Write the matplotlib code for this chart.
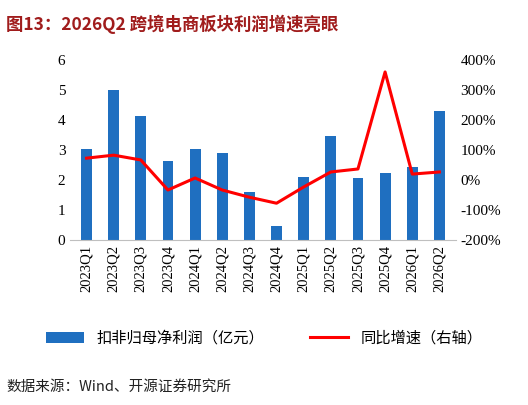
import numpy as np
import matplotlib.pyplot as plt

plt.rcParams['font.family'] = ['Noto Sans CJK SC', 'DejaVu Sans']

quarters = ['2023Q1', '2023Q2', '2023Q3', '2023Q4', '2024Q1', '2024Q2', '2024Q3',
            '2024Q4', '2025Q1', '2025Q2', '2025Q3', '2025Q4', '2026Q1', '2026Q2']
profit = [3.02, 5.0, 4.15, 2.65, 3.05, 2.9, 1.6, 0.48, 2.1, 3.47, 2.07, 2.25, 2.45, 4.3]
growth = [73, 83, 67, -33, 7, -33, -57, -77, -23, 27, 37, 360, 20, 27]

fig = plt.figure(figsize=(5.28, 4.05), dpi=100)
ax = fig.add_axes([0.133, 0.407, 0.73, 0.445])
x = np.arange(len(quarters))
ax.bar(x, profit, width=0.4, color='#1f6fc0', label='扣非归母净利润（亿元）')
ax.set_ylim(0, 6)
ax.set_yticks(range(0, 7))
ax.set_xlim(-0.6, len(x) - 0.4)
ax.set_xticks(x)
ax.set_xticklabels(quarters, rotation=90, fontsize=10.5, family=['Liberation Serif'])
ax.tick_params(axis='y', labelsize=11, length=0)
ax.tick_params(axis='x', length=0)
for s in ['top', 'right', 'left']:
    ax.spines[s].set_visible(False)
ax.spines['bottom'].set_color('#bfbfbf')

ax2 = ax.twinx()
ax2.plot(x, growth, color='#ff0000', lw=2.2, label='同比增速（右轴）')
ax2.set_ylim(-200, 400)
ax2.set_yticks(range(-200, 401, 100))
ax2.set_yticklabels([f'{v}%' for v in range(-200, 401, 100)])
ax2.tick_params(axis='y', labelsize=11, length=0)
for s in ['top', 'right', 'left', 'bottom']:
    ax2.spines[s].set_visible(False)
for t in ax.get_yticklabels() + ax2.get_yticklabels():
    t.set_family(['Liberation Serif'])

h1, l1 = ax.get_legend_handles_labels()
h2, l2 = ax2.get_legend_handles_labels()
fig.legend(h1 + h2, l1 + l2, loc='center', bbox_to_anchor=(0.5, 0.165), ncol=2,
           frameon=False, fontsize=11, columnspacing=3, handlelength=2.5)

fig.text(0.012, 0.965, '图13：2026Q2 跨境电商板块利润增速亮眼', fontsize=12.5,
         fontweight='bold', color='#a01c1c', va='top')
fig.text(0.012, 0.035, '数据来源：Wind、开源证券研究所', fontsize=10.5, color='#222222')

fig.savefig('out.png', dpi=100)
